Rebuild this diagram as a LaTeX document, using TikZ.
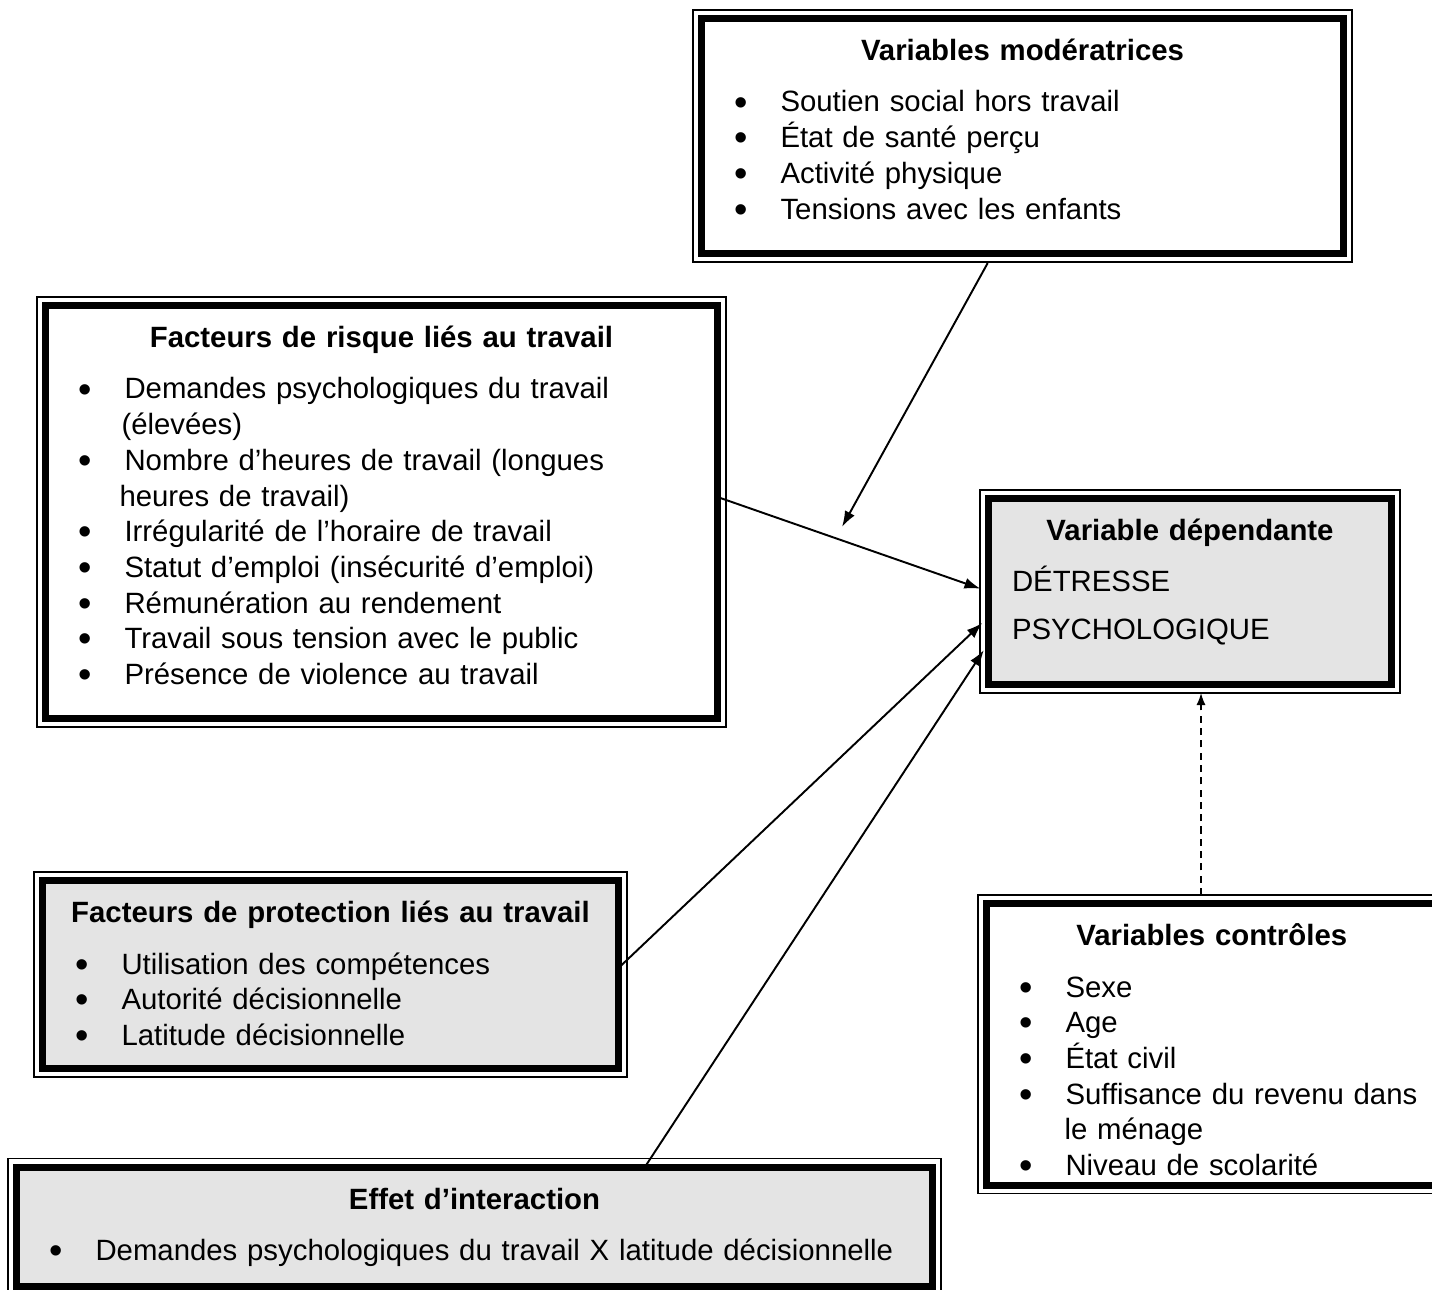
\documentclass[tikz,border=0pt]{standalone}
\usepackage{fontspec}
\setmainfont{Liberation Sans}
\usepackage{xcolor}
\usepackage{graphicx}
\usetikzlibrary{arrows.meta,calc}
\definecolor{GrisFond}{RGB}{228,228,228}
\newcommand{\puce}[1]{\mbox{\makebox[0.92cm][l]{\raisebox{-0.11em}{\scalebox{1.3}{\textbullet}}}#1}}
\newcommand{\titre}[1]{\makebox[\linewidth]{\bfseries #1}\par\vspace{9pt}}

\begin{document}
\begin{tikzpicture}[>=Latex,
  boite/.style={draw,line width=4pt,outer sep=0pt,anchor=north west,inner xsep=0.66cm,inner ysep=0.33cm,
    text height=0.51cm,align=left,font=\fontsize{16.7}{20.3}\selectfont},
  cadre/.style={line width=1.1pt},
  fleche/.style={line width=1.1pt,-{Latex[length=0.32cm,width=0.22cm]}}]
  \useasboundingbox (0,0) rectangle (28.64,-25.78);
  % les boites
  \node[boite,text width=11.52cm,text depth=3.53cm] (moder) at (14.03,-0.37) {\titre{Variables modératrices}
    \puce{Soutien social hors travail}\\
    \puce{État de santé perçu}\\
    \puce{Activité physique}\\
    \puce{Tensions avec les enfants}};
  \node[boite,text width=12.12cm,text depth=7.09cm] (risque) at (0.91,-6.11) {\titre{Facteurs de risque liés au travail}
    \puce{Demandes psychologiques du travail}\\
    \hspace*{0.86cm}(élevées)\\
    \puce{Nombre d’heures de travail (longues}\\
    \hspace*{0.82cm}heures de travail)\\
    \puce{Irrégularité de l’horaire de travail}\\
    \puce{Statut d’emploi (insécurité d’emploi)}\\
    \puce{Rémunération au rendement}\\
    \puce{Travail sous tension avec le public}\\
    \puce{Présence de violence au travail}};
  \node[boite,fill=GrisFond,inner xsep=0.47cm,text width=7.12cm,text depth=2.55cm] (dep) at (19.77,-9.97) {\titre{Variable dépendante}
    DÉTRESSE\\[7pt]
    PSYCHOLOGIQUE};
  \node[boite,fill=GrisFond,text width=10.20cm,text depth=2.59cm] (protec) at (0.85,-17.61) {\titre{Facteurs de protection liés au travail}
    \puce{Utilisation des compétences}\\
    \puce{Autorité décisionnelle}\\
    \puce{Latitude décisionnelle}};
  \node[boite,text width=7.69cm,text depth=4.46cm] (controles) at (19.73,-18.07) {\titre{Variables contrôles}
    \puce{Sexe}\\
    \puce{Age}\\
    \puce{État civil}\\
    \puce{Suffisance du revenu dans}\\
    \hspace*{0.9cm}le ménage\\
    \puce{Niveau de scolarité}};
  \node[boite,fill=GrisFond,text width=17.0cm,text depth=1.21cm] (effet) at (0.33,-23.34) {\titre{Effet d’interaction}
    \puce{Demandes psychologiques du travail X latitude décisionnelle}};
  % cadre mince exterieur
  \foreach \b in {moder,risque,dep,protec,controles,effet}
    \draw[cadre] ([shift={(-0.17,0.17)}]\b.north west) rectangle ([shift={(0.17,-0.17)}]\b.south east);
  % fleches
  \coordinate (cible) at (16.84,-10.54);
  \coordinate (axe) at (24.02,-15.5);
  \draw[fleche,shorten <=0.22cm] ($(moder.south west)!0.454!(moder.south east)$) -- (cible);
  \draw[fleche,shorten >=0.17cm] ([yshift=0.3cm]risque.east) -- (dep.west);
  \draw[fleche,shorten >=0.17cm] ([yshift=0.13cm]protec.east) -- ([yshift=-0.51cm]dep.west);
  \draw[fleche,shorten >=0.17cm] ($(effet.north west)!0.686!(effet.north east)$) -- ([yshift=-1.03cm]dep.west);
  \draw[line width=0.8pt,dash pattern=on 4pt off 3pt,-{Latex[length=0.24cm,width=0.18cm]},shorten <=0.17cm,shorten >=0.17cm]
    (controles.north -| axe) -- (dep.south -| axe);
\end{tikzpicture}
\end{document}
